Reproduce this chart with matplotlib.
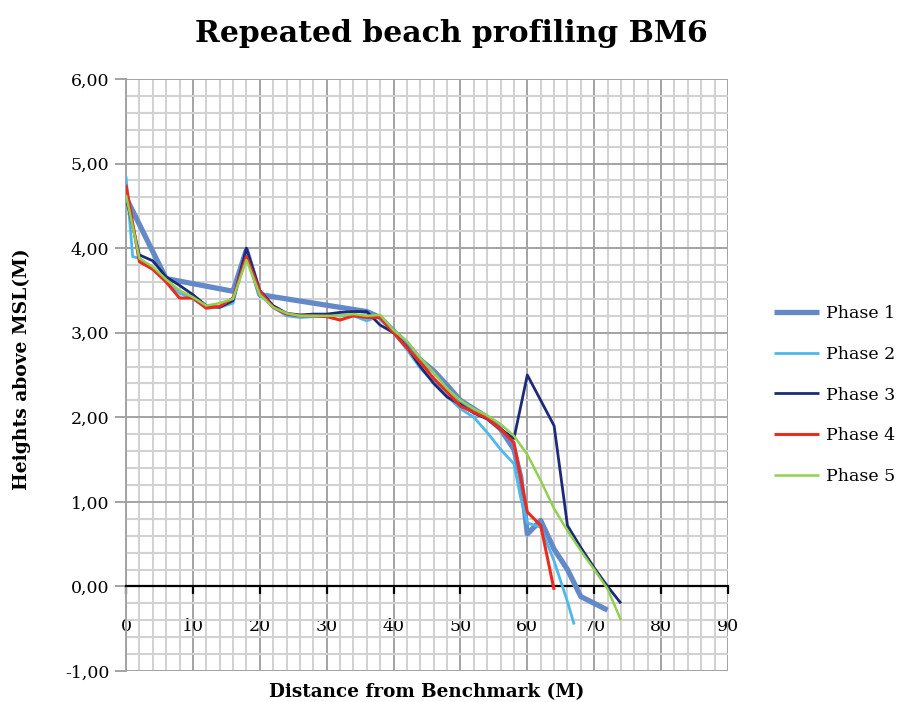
import matplotlib
matplotlib.use("Agg")
import matplotlib.pyplot as plt
from matplotlib.ticker import MultipleLocator, FixedLocator

plt.rcParams['font.family'] = ['DejaVu Serif']

title = "Repeated beach profiling BM6"
xlabel = "Distance from Benchmark (M)"
ylabel = "Heights above MSL(M)"
series_names = ["Phase 1", "Phase 2", "Phase 3", "Phase 4", "Phase 5"]

p1_x = [0, 6, 16, 18, 20, 36, 38, 40, 42, 44, 46, 48, 50, 52, 54, 56, 58, 59, 60, 61, 62, 64, 66, 68, 72]
p1_y = [4.6, 3.64, 3.49, 3.98, 3.45, 3.25, 3.18, 3.02, 2.87, 2.68, 2.55, 2.38, 2.2, 2.1, 2.0, 1.86, 1.62, 1.3, 0.62, 0.7, 0.78, 0.44, 0.2, -0.12, -0.28]

p2_x = [0, 1, 2, 4, 6, 8, 10, 12, 14, 16, 18, 20, 22, 24, 26, 28, 30, 32, 34, 36, 38, 40, 42, 44, 46, 48, 50, 52, 54, 56, 58, 59, 60, 62, 64, 66, 67]
p2_y = [4.85, 3.9, 3.88, 3.75, 3.62, 3.47, 3.4, 3.3, 3.3, 3.35, 3.95, 3.45, 3.3, 3.2, 3.18, 3.19, 3.2, 3.2, 3.2, 3.14, 3.2, 3.0, 2.8, 2.58, 2.42, 2.25, 2.1, 2.0, 1.82, 1.62, 1.45, 1.05, 0.75, 0.7, 0.3, -0.18, -0.45]

p3_x = [0, 2, 4, 6, 8, 10, 12, 14, 16, 18, 20, 22, 24, 26, 28, 30, 32, 34, 36, 38, 40, 42, 44, 46, 48, 50, 52, 54, 56, 58, 60, 62, 64, 66, 68, 70, 72, 74]
p3_y = [4.6, 3.92, 3.85, 3.66, 3.56, 3.45, 3.32, 3.3, 3.38, 4.0, 3.5, 3.32, 3.23, 3.21, 3.22, 3.22, 3.24, 3.25, 3.25, 3.09, 3.0, 2.83, 2.6, 2.4, 2.24, 2.15, 2.05, 1.98, 1.86, 1.75, 2.5, 2.2, 1.9, 0.72, 0.46, 0.22, 0.0, -0.2]

p4_x = [0, 2, 4, 6, 8, 10, 12, 14, 16, 18, 20, 22, 24, 26, 28, 30, 32, 34, 36, 38, 40, 42, 44, 46, 48, 50, 52, 54, 56, 58, 60, 62, 64]
p4_y = [4.75, 3.84, 3.75, 3.6, 3.41, 3.41, 3.29, 3.31, 3.41, 3.9, 3.49, 3.3, 3.22, 3.2, 3.2, 3.19, 3.15, 3.2, 3.18, 3.18, 3.0, 2.82, 2.65, 2.46, 2.3, 2.13, 2.06, 1.99, 1.86, 1.7, 0.88, 0.72, -0.04]

p5_x = [0, 2, 4, 6, 8, 10, 12, 14, 16, 18, 20, 22, 24, 26, 28, 30, 32, 34, 36, 38, 40, 42, 44, 46, 48, 50, 52, 54, 56, 58, 60, 62, 64, 66, 68, 70, 72, 74]
p5_y = [4.63, 3.88, 3.78, 3.63, 3.5, 3.42, 3.32, 3.35, 3.4, 3.86, 3.45, 3.3, 3.23, 3.2, 3.2, 3.2, 3.2, 3.22, 3.2, 3.21, 3.03, 2.9, 2.7, 2.53, 2.34, 2.2, 2.1, 2.02, 1.92, 1.78, 1.56, 1.25, 0.92, 0.66, 0.42, 0.2, -0.03, -0.4]

xs = [p1_x, p2_x, p3_x, p4_x, p5_x]
ys = [p1_y, p2_y, p3_y, p4_y, p5_y]
colors = ["#6389c9", "#4db8ec", "#1c2a78", "#ec2a1e", "#92d050"]
widths = [3.8, 2.0, 2.0, 2.2, 1.8]

x_major = [0, 10, 20, 30, 40, 50, 60, 70, 80, 90]
y_major = [-1, 0, 1, 2, 3, 4, 5, 6]
y_labels = ["-1,00", "0,00", "1,00", "2,00", "3,00", "4,00", "5,00", "6,00"]

fig = plt.figure(figsize=(9.04, 7.02), dpi=100)
ax = fig.add_axes([126/904, 1-671/702, (728-126)/904, (671-79)/702])

ax.set_xlim(0, 90)
ax.set_ylim(-1, 6)

ax.xaxis.set_major_locator(FixedLocator(x_major))
ax.xaxis.set_minor_locator(MultipleLocator(2))
ax.yaxis.set_major_locator(FixedLocator(y_major))
ax.yaxis.set_minor_locator(MultipleLocator(0.2))

ax.grid(which='minor', color='#d2d2d2', linewidth=1.5, zorder=0)
ax.grid(which='major', color='#a3a3a3', linewidth=1.4, zorder=0)
ax.set_axisbelow(True)

for s in ['top', 'right']:
    ax.spines[s].set_visible(False)
ax.spines['left'].set_color('#a3a3a3')
ax.spines['left'].set_linewidth(1.4)
ax.spines['bottom'].set_position(('data', 0))
ax.spines['bottom'].set_color('black')
ax.spines['bottom'].set_linewidth(1.6)

ax.set_yticklabels(y_labels)
ax.tick_params(axis='y', which='major', length=8, width=1.4, color='#a3a3a3', labelsize=12.5, pad=4)
ax.tick_params(axis='x', which='major', length=6, width=1.6, color='black', labelsize=12.5, pad=17, direction='out')
ax.tick_params(which='minor', length=0)

for x, y, c, w, n in zip(xs, ys, colors, widths, series_names):
    ax.plot(x, y, color=c, linewidth=w, label=n, solid_joinstyle='round', solid_capstyle='butt', zorder=3)

fig.text(451/904, 1-33/702, title, ha='center', va='center', fontsize=21.5, fontweight='bold')
fig.text(427/904, 1-692/702, xlabel, ha='center', va='center', fontsize=13.2, fontweight='bold')
fig.text(22/904, 1-369/702, ylabel, ha='center', va='center', fontsize=13.5, fontweight='bold', rotation=90)

handles, labels = ax.get_legend_handles_labels()
fig.legend(handles, labels, loc='upper left', bbox_to_anchor=(758/904, 1-289/702),
           frameon=False, fontsize=12.5, handlelength=2.6, labelspacing=1.38, handletextpad=0.4)

fig.savefig("out.png", dpi=100)
